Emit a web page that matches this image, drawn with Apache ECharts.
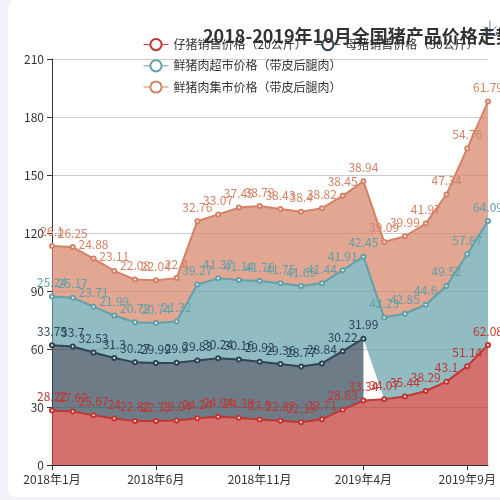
<!DOCTYPE html>
<html>
<head>
<meta charset="utf-8">
<script src="https://cdn.jsdelivr.net/npm/echarts@6/dist/echarts.min.js"></script>
<style>
    html, body { margin: 0; padding: 0; overflow: hidden; background: #f2f3f8; }
    #main {
        position: absolute; left: 8px; top: 0;
        width: 510px; height: 497px;
        background: #fff; border-radius: 8px;
    }
</style>
</head>
<body>
<div id="main"></div>
<script>
// 月份
var months = ['2018年1月', '2018年2月', '2018年3月', '2018年4月', '2018年5月', '2018年6月',
    '2018年7月', '2018年8月', '2018年9月', '2018年10月', '2018年11月', '2018年12月',
    '2019年1月', '2019年2月', '2019年3月', '2019年4月', '2019年5月', '2019年6月',
    '2019年7月', '2019年8月', '2019年9月', '2019年10月'];

// 各类价格
var piglet = [28.22, 27.62, 25.67, 24, 22.82, 22.73, 23.04, 24.24, 24.94, 24.38, 23.5,
    22.87, 22.13, 23.71, 28.63, 33.34, 34.07, 35.44, 38.29, 43.1, 51.14, 62.08];
var sow = [33.75, 33.7, 32.53, 31.3, 30.27, 29.99, 29.9, 29.83, 30.24, 30.16, 29.92,
    29.36, 28.77, 28.84, 30.22, 31.99, '-', '-', '-', '-', '-', '-'];
var superPork = [25.24, 25.17, 23.71, 21.99, 20.72, 20.74, 21.32, 39.27, 41.37, 41.14, 41.76,
    41.75, 41.69, 41.44, 41.91, 42.45, 42.23, 42.85, 44.6, 49.52, 57.87, 64.09];
var marketPork = [26.1, 26.25, 24.88, 23.11, 22.08, 22.04, 22.4, 32.76, 33.07, 37.45, 38.79,
    38.43, 38.4, 38.82, 38.45, 38.94, 39.09, 39.99, 41.97, 47.34, 54.76, 61.79];

var names = ['仔猪销售价格（20公斤）', '母猪销售价格（50公斤）', '鲜猪肉超市价格（带皮后腿肉）', '鲜猪肉集市价格（带皮后腿肉）'];
var colors = ['#c23531', '#2f4554', '#61a0a8', '#d48265'];
var yTicks = { min: 0, max: 210, interval: 30 };

var myChart = echarts.init(document.getElementById('main'));

function makeSeries(i, data) {
    return {
        name: names[i],
        type: 'line',
        stack: 'total',
        smooth: false,
        symbol: 'emptyCircle',
        symbolSize: 4,
        itemStyle: { borderWidth: 1 },
        lineStyle: { width: 2 },
        areaStyle: { opacity: 0.7 },
        label: { show: true, position: 'top', fontSize: 12, color: colors[i] },
        data: data
    };
}

var option = {
    color: colors,
    textStyle: { fontFamily: 'Noto Sans CJK SC' },
    title: {
        text: '2018-2019年10月全国猪产品价格走势',
        left: 190,
        top: 22,
        textStyle: { fontSize: 18, fontWeight: 'bold', color: '#333' }
    },
    toolbox: {
        right: 4,
        top: 3,
        feature: { saveAsImage: {} }
    },
    tooltip: { trigger: 'axis' },
    legend: {
        left: 130,
        top: 33,
        width: 360,
        itemGap: 8,
        itemStyle: { borderWidth: 1 },
        lineStyle: { width: 1 },
        textStyle: { fontSize: 12, color: '#333' },
        data: names
    },
    grid: { left: 44, right: 30, top: 59, bottom: 32 },
    xAxis: {
        type: 'category',
        boundaryGap: false,
        data: months,
        axisLine: { lineStyle: { color: '#333' } },
        axisTick: { show: true },
        axisLabel: { interval: 4, color: '#333', fontSize: 12 }
    },
    yAxis: {
        type: 'value',
        min: yTicks.min,
        max: yTicks.max,
        interval: yTicks.interval,
        axisLine: { show: true, lineStyle: { color: '#333' } },
        axisTick: { show: true },
        axisLabel: { color: '#333', fontSize: 12 },
        splitLine: { lineStyle: { color: '#ccc' } }
    },
    series: [
        makeSeries(0, piglet),
        makeSeries(1, sow),
        makeSeries(2, superPork),
        makeSeries(3, marketPork)
    ]
};

myChart.setOption(option);
</script>
</body>
</html>
